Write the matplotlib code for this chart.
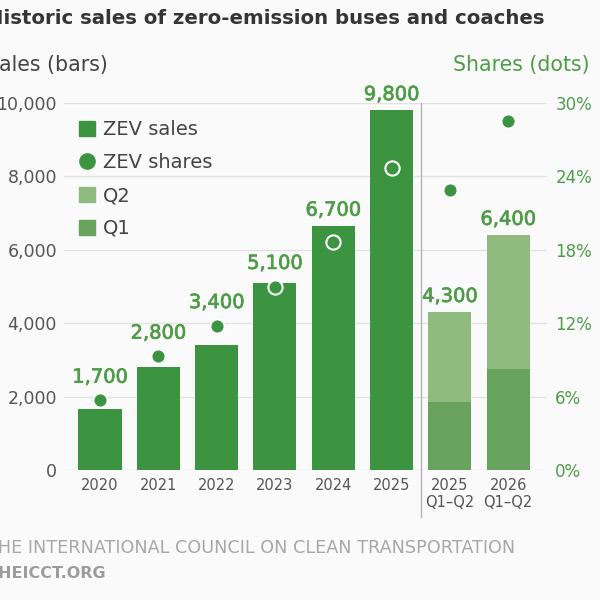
import matplotlib.pyplot as plt
import matplotlib.patheffects as pe
from matplotlib.patches import Patch
from matplotlib.lines import Line2D

plt.rcParams['font.family'] = ['DejaVu Sans']

# data
categories = ['2020', '2021', '2022', '2023', '2024', '2025', '2025\nQ1–Q2', '2026\nQ1–Q2']
annual_sales = [1650, 2800, 3400, 5100, 6650, 9800]
q1_sales = [1850, 2750]
q2_sales = [2450, 3650]
total_labels = ['1,700', '2,800', '3,400', '5,100', '6,700', '9,800', '4,300', '6,400']
shares = [5.7, 9.3, 11.8, 15.0, 18.6, 24.7, 22.9, 28.5]

DARK = '#3d9440'
Q1C = '#67a35c'
Q2C = '#8fbb80'
GREEN_TXT = '#4f9c48'
GRAY_TXT = '#555555'
BG = '#fafafa'

fig = plt.figure(figsize=(6, 6), dpi=100, facecolor=BG)
ax = fig.add_axes([64 / 600, 1 - 470 / 600, (547 - 64) / 600, 367 / 600])
ax.set_facecolor(BG)

x = list(range(len(categories)))
n = len(annual_sales)
ax.bar(x[:n], annual_sales, width=0.74, color=DARK, zorder=2)
ax.bar(x[n:], q1_sales, width=0.74, color=Q1C, zorder=2)
ax.bar(x[n:], q2_sales, width=0.74, bottom=q1_sales, color=Q2C, zorder=2)

ax.set_xlim(-0.617, 7.667)
ax.set_ylim(0, 10000)
ax.set_yticks(range(0, 10001, 2000))
ax.set_yticklabels([f'{v:,}' for v in range(0, 10001, 2000)])
ax.set_xticks(x)
ax.set_xticklabels(categories, linespacing=1.15)
ax.yaxis.grid(True, color='#e2e2e2', lw=1)
ax.set_axisbelow(True)
ax.tick_params(axis='y', length=0, pad=5, labelsize=12.5, labelcolor=GRAY_TXT)
ax.tick_params(axis='x', length=0, pad=6, labelsize=10.5, labelcolor=GRAY_TXT)
for s in ax.spines.values():
    s.set_visible(False)

# divider between full years and half years
ax.axvline(5.5, ymin=-0.128, ymax=1, color='#b4b4b4', lw=1, clip_on=False, zorder=1)

ax2 = ax.twinx()
ax2.set_ylim(0, 30)
ax2.set_yticks(range(0, 31, 6))
ax2.set_yticklabels([f'{v}%' for v in range(0, 31, 6)])
ax2.tick_params(axis='y', length=0, pad=6, labelsize=12, labelcolor=GREEN_TXT)
for s in ax2.spines.values():
    s.set_visible(False)
ax2.scatter(x, shares, s=105, color=DARK, edgecolor='white', linewidth=1.5, zorder=3)

# value labels: above the dot when it sits just over the bar, else above the bar
totals = annual_sales + [a + b for a, b in zip(q1_sales, q2_sales)]
thick = [pe.withStroke(linewidth=0.5, foreground=GREEN_TXT)]
for i, (tot, sh, lab) in enumerate(zip(totals, shares, total_labels)):
    dot_top = sh / 30 * 10000 + 200
    top = dot_top if tot < dot_top < tot + 1200 else tot
    ax.annotate(lab, (i, top), xytext=(0, 4.5), textcoords='offset points',
                ha='center', va='bottom', fontsize=14, color=GREEN_TXT,
                path_effects=thick, annotation_clip=False)

handles = [Patch(color=DARK), Line2D([], [], marker='o', ls='', color=DARK, markersize=11),
           Patch(color=Q2C), Patch(color=Q1C)]
fig.legend(handles, ['ZEV sales', 'ZEV shares', 'Q2', 'Q1'], loc='upper left',
           bbox_to_anchor=(79 / 600, 1 - 120 / 600), frameon=False, fontsize=14,
           handlelength=0.8, handleheight=0.8, handletextpad=0.45,
           labelspacing=0.72, borderpad=0, borderaxespad=0, labelcolor='#444444')

fig.text(-0.022, 1 - 18 / 600, 'Historic sales of zero-emission buses and coaches',
         fontsize=14.2, fontweight='bold', color='#353535', va='center')
fig.text(-0.024, 1 - 65 / 600, 'Sales (bars)', fontsize=14.8, color='#444444', va='center')
fig.text(0.982, 1 - 65 / 600, 'Shares (dots)', fontsize=14.8, color=GREEN_TXT,
         va='center', ha='right')
fig.text(-0.021, 1 - 548 / 600, 'THE INTERNATIONAL COUNCIL ON CLEAN TRANSPORTATION',
         fontsize=12.7, color='#a8a8a8', va='center')
fig.text(-0.021, 1 - 573 / 600, 'THEICCT.ORG', fontsize=11.5, fontweight='bold',
         color='#9c9c9c', va='center')

fig.savefig('out.png', dpi=100, facecolor=BG)
